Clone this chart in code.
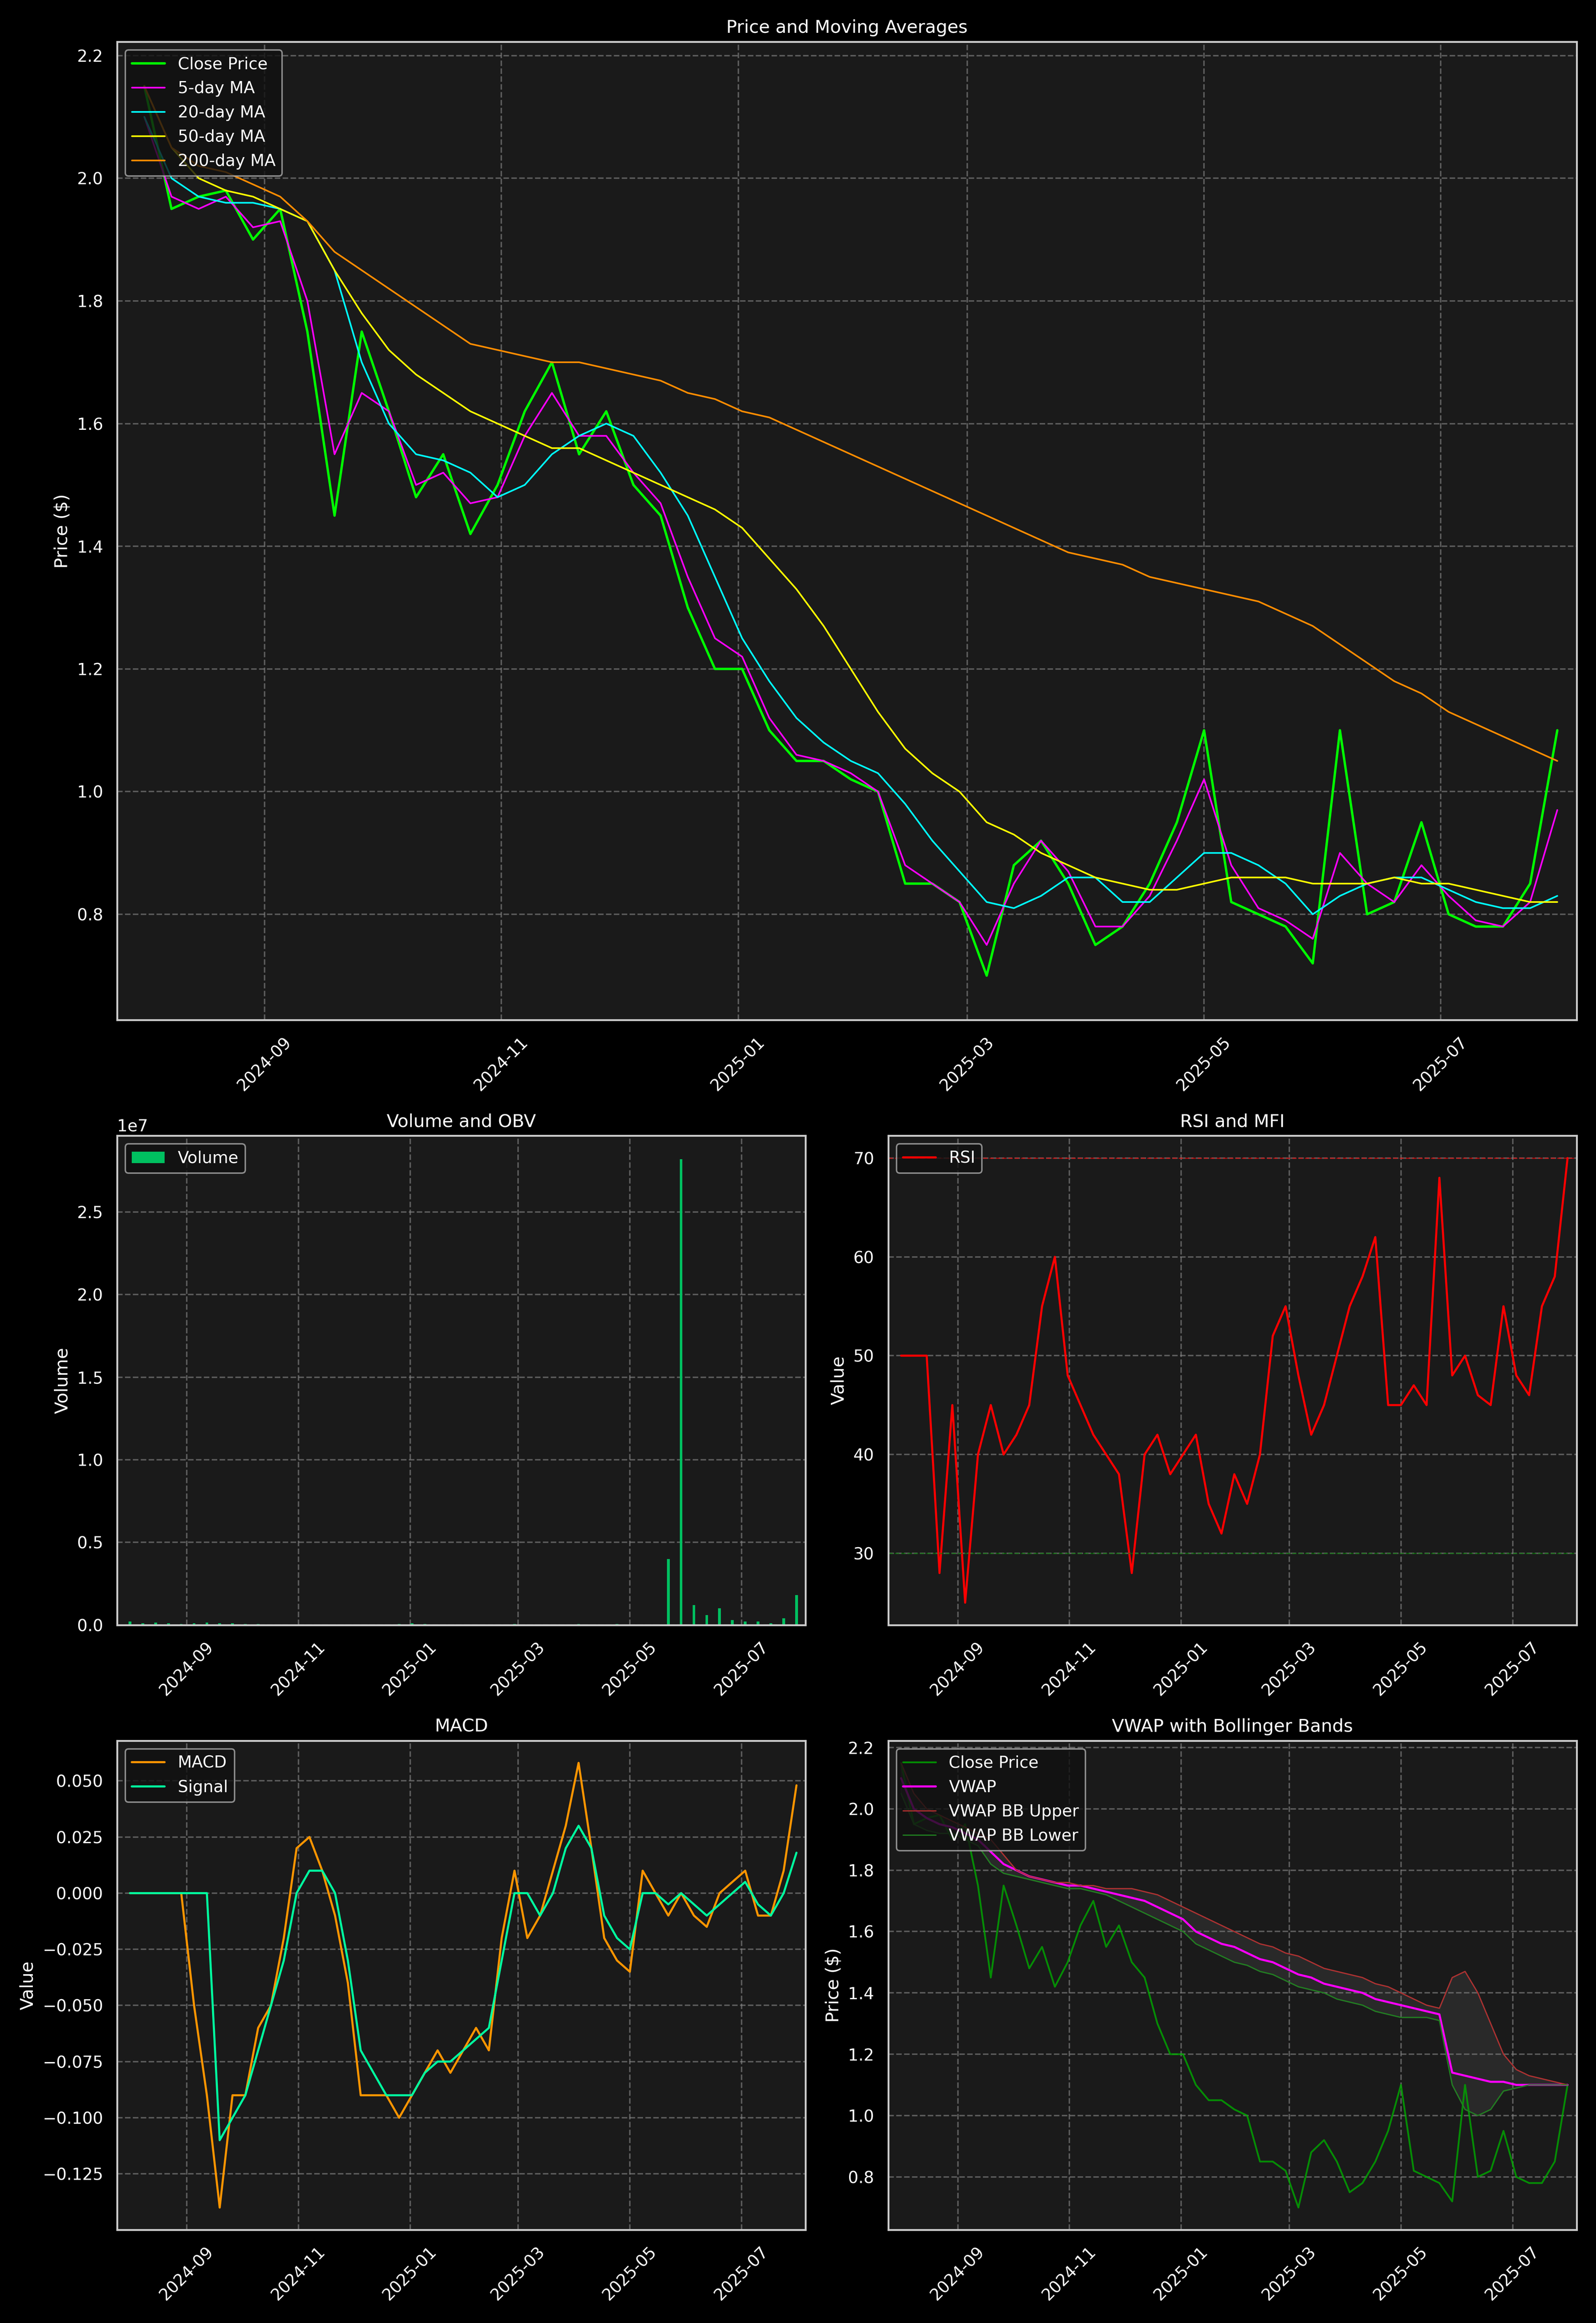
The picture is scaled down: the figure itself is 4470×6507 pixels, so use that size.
import numpy as np, pandas as pd, matplotlib
matplotlib.use('Agg')
import matplotlib.pyplot as plt, seaborn as sns

dates = pd.date_range('2024-08-01', periods=53, freq='7D')
close = [2.15,1.95,1.97,1.98,1.90,1.95,1.75,1.45,1.75,1.62,1.48,1.55,1.42,1.50,1.62,1.70,1.55,1.62,1.50,1.45,1.30,1.20,1.20,1.10,1.05,1.05,1.02,1.00,0.85,0.85,0.82,0.70,0.88,0.92,0.85,0.75,0.78,0.85,0.95,1.10,0.82,0.80,0.78,0.72,1.10,0.80,0.82,0.95,0.80,0.78,0.78,0.85,1.10]
ma5 = [2.10,1.97,1.95,1.97,1.92,1.93,1.80,1.55,1.65,1.62,1.50,1.52,1.47,1.48,1.58,1.65,1.58,1.58,1.52,1.47,1.35,1.25,1.22,1.12,1.06,1.05,1.03,1.00,0.88,0.85,0.82,0.75,0.85,0.92,0.87,0.78,0.78,0.83,0.92,1.02,0.88,0.81,0.79,0.76,0.90,0.85,0.82,0.88,0.83,0.79,0.78,0.82,0.97]
ma20 = [2.10,2.00,1.97,1.96,1.96,1.95,1.93,1.85,1.70,1.60,1.55,1.54,1.52,1.48,1.50,1.55,1.58,1.60,1.58,1.52,1.45,1.35,1.25,1.18,1.12,1.08,1.05,1.03,0.98,0.92,0.87,0.82,0.81,0.83,0.86,0.86,0.82,0.82,0.86,0.90,0.90,0.88,0.85,0.80,0.83,0.85,0.86,0.86,0.84,0.82,0.81,0.81,0.83]
ma50 = [2.15,2.05,2.00,1.98,1.97,1.95,1.93,1.85,1.78,1.72,1.68,1.65,1.62,1.60,1.58,1.56,1.56,1.54,1.52,1.50,1.48,1.46,1.43,1.38,1.33,1.27,1.20,1.13,1.07,1.03,1.00,0.95,0.93,0.90,0.88,0.86,0.85,0.84,0.84,0.85,0.86,0.86,0.86,0.85,0.85,0.85,0.86,0.85,0.85,0.84,0.83,0.82,0.82,0.84][:53]
ma200 = [2.15,2.05,2.02,2.01,1.99,1.97,1.93,1.88,1.85,1.82,1.79,1.76,1.73,1.72,1.71,1.70,1.70,1.69,1.68,1.67,1.65,1.64,1.62,1.61,1.59,1.57,1.55,1.53,1.51,1.49,1.47,1.45,1.43,1.41,1.39,1.38,1.37,1.35,1.34,1.33,1.32,1.31,1.29,1.27,1.24,1.21,1.18,1.16,1.13,1.11,1.09,1.07,1.05]
volume = [2e5,1e5,1.5e5,1e5,0.5e5,1e5,1.5e5,1e5,1e5,0.5e5,0.5e5,0.3e5,0.3e5,0.3e5,0.3e5,0.3e5,0.3e5,0.3e5,0.3e5,0.3e5,0.3e5,0.5e5,1e5,0.5e5,0.3e5,0.3e5,0.3e5,0.3e5,0.3e5,0.3e5,0.5e5,0.3e5,0.3e5,0.3e5,0.3e5,0.5e5,0.3e5,0.3e5,0.5e5,0.3e5,0.3e5,0.3e5,4e6,2.82e7,1.2e6,6e5,1e6,3e5,2e5,2e5,1e5,4e5,1.8e6]
rsi = [50,50,50,28,45,25,40,45,40,42,45,55,60,48,45,42,40,38,28,40,42,38,40,42,35,32,38,35,40,52,55,48,42,45,50,55,58,62,45,45,47,45,68,48,50,46,45,55,48,46,55,58,70]
macd = [0,0,0,0,0,-0.05,-0.09,-0.14,-0.09,-0.09,-0.06,-0.05,-0.02,0.02,0.025,0.01,-0.01,-0.04,-0.09,-0.09,-0.09,-0.10,-0.09,-0.08,-0.07,-0.08,-0.07,-0.06,-0.07,-0.02,0.01,-0.02,-0.01,0.01,0.03,0.058,0.02,-0.02,-0.03,-0.035,0.01,0.0,-0.01,0.0,-0.01,-0.015,0.0,0.005,0.01,-0.01,-0.01,0.01,0.048]
signal = [0,0,0,0,0,0,0,-0.11,-0.10,-0.09,-0.07,-0.05,-0.03,0.0,0.01,0.01,0.0,-0.03,-0.07,-0.08,-0.09,-0.09,-0.09,-0.08,-0.075,-0.075,-0.07,-0.065,-0.06,-0.03,0.0,0.0,-0.01,0.0,0.02,0.03,0.02,-0.01,-0.02,-0.025,0.0,0.0,-0.005,0.0,-0.005,-0.01,-0.005,0.0,0.005,-0.005,-0.01,0.0,0.018]
vwap = [2.10,2.00,1.97,1.95,1.94,1.92,1.90,1.86,1.82,1.80,1.78,1.77,1.76,1.75,1.75,1.74,1.73,1.72,1.71,1.70,1.68,1.66,1.64,1.60,1.58,1.56,1.55,1.53,1.51,1.50,1.48,1.46,1.45,1.43,1.42,1.41,1.40,1.38,1.37,1.36,1.35,1.34,1.33,1.14,1.13,1.12,1.11,1.11,1.10,1.10,1.10,1.10,1.10]
bb_up = [2.15,2.05,2.00,1.98,1.96,1.94,1.92,1.90,1.85,1.80,1.78,1.77,1.76,1.76,1.75,1.75,1.74,1.74,1.74,1.73,1.72,1.70,1.68,1.66,1.64,1.62,1.60,1.58,1.56,1.55,1.53,1.52,1.50,1.48,1.47,1.46,1.45,1.43,1.42,1.40,1.38,1.36,1.35,1.45,1.47,1.40,1.30,1.20,1.15,1.13,1.12,1.11,1.10]
bb_low = [2.05,1.95,1.93,1.92,1.92,1.90,1.88,1.82,1.79,1.78,1.77,1.76,1.75,1.74,1.74,1.73,1.72,1.70,1.68,1.66,1.64,1.62,1.60,1.56,1.54,1.52,1.50,1.49,1.47,1.46,1.44,1.42,1.41,1.40,1.38,1.37,1.36,1.34,1.33,1.32,1.32,1.32,1.31,1.10,1.02,1.00,1.02,1.08,1.09,1.10,1.10,1.10,1.10]

sns.set_theme(style='dark')
plt.rcParams.update({'figure.facecolor':'#000000','axes.facecolor':'#1a1a1a','axes.edgecolor':'#cccccc',
    'text.color':'white','axes.labelcolor':'white','xtick.color':'white','ytick.color':'white',
    'grid.color':'#888888','grid.linestyle':'--','grid.alpha':0.6,'legend.facecolor':'#111111','legend.edgecolor':'#aaaaaa',
    'legend.labelcolor':'white'})
plt.rcParams['font.family'] = ['DejaVu Sans']

fig = plt.figure(figsize=(14.9, 21.69), dpi=300)
gs = fig.add_gridspec(3, 2, height_ratios=[2, 1, 1])
ax0 = fig.add_subplot(gs[0, :]); ax1 = fig.add_subplot(gs[1, 0]); ax2 = fig.add_subplot(gs[1, 1])
ax3 = fig.add_subplot(gs[2, 0]); ax4 = fig.add_subplot(gs[2, 1])

sns.lineplot(x=dates, y=close, ax=ax0, color='#00ff00', lw=1.6, label='Close Price')
sns.lineplot(x=dates, y=ma5, ax=ax0, color='#ff00ff', lw=1.1, label='5-day MA')
sns.lineplot(x=dates, y=ma20, ax=ax0, color='#00ffff', lw=1.1, label='20-day MA')
sns.lineplot(x=dates, y=ma50, ax=ax0, color='#ffff00', lw=1.1, label='50-day MA')
sns.lineplot(x=dates, y=ma200, ax=ax0, color='#ff8c00', lw=1.1, label='200-day MA')
ax0.set_title('Price and Moving Averages', color='white'); ax0.set_ylabel('Price ($)')
ax0.legend(loc='upper left')

ax1.bar(dates, volume, width=1.5, color='#00c060', edgecolor='none', label='Volume')
ax1.set_title('Volume and OBV', color='white'); ax1.set_ylabel('Volume'); ax1.legend(loc='upper left')

sns.lineplot(x=dates, y=rsi, ax=ax2, color='red', lw=1.4, label='RSI')
ax2.axhline(70, color='red', ls='--', lw=0.8, alpha=0.6); ax2.axhline(30, color='green', ls='--', lw=0.8, alpha=0.6)
ax2.set_title('RSI and MFI', color='white'); ax2.set_ylabel('Value'); ax2.legend(loc='upper left')

sns.lineplot(x=dates, y=macd, ax=ax3, color='#ff9500', lw=1.4, label='MACD')
sns.lineplot(x=dates, y=signal, ax=ax3, color='#00ff9f', lw=1.4, label='Signal')
ax3.set_title('MACD', color='white'); ax3.set_ylabel('Value'); ax3.legend(loc='upper left')

sns.lineplot(x=dates, y=close, ax=ax4, color='#00aa00', lw=1.2, alpha=0.8, label='Close Price')
sns.lineplot(x=dates, y=vwap, ax=ax4, color='#ff00ff', lw=1.4, label='VWAP')
sns.lineplot(x=dates, y=bb_up, ax=ax4, color='#b03030', lw=0.8, label='VWAP BB Upper')
sns.lineplot(x=dates, y=bb_low, ax=ax4, color='#208020', lw=0.8, label='VWAP BB Lower')
ax4.fill_between(dates, bb_low, bb_up, color='gray', alpha=0.15)
ax4.set_title('VWAP with Bollinger Bands', color='white'); ax4.set_ylabel('Price ($)'); ax4.legend(loc='upper left')

for a in [ax0, ax1, ax2, ax3, ax4]:
    a.grid(True); a.set_xlabel(''); a.set_xlim(pd.Timestamp('2024-07-25'), pd.Timestamp('2025-08-05'))
    a.xaxis.set_major_locator(matplotlib.dates.MonthLocator(bymonth=[1,3,5,7,9,11]))
    a.xaxis.set_major_formatter(matplotlib.dates.DateFormatter('%Y-%m'))
    a.tick_params(axis='x', rotation=45)
    for s in a.spines.values(): s.set_color('#cccccc')
fig.tight_layout()
fig.savefig('out.png', dpi=300, facecolor=fig.get_facecolor())
